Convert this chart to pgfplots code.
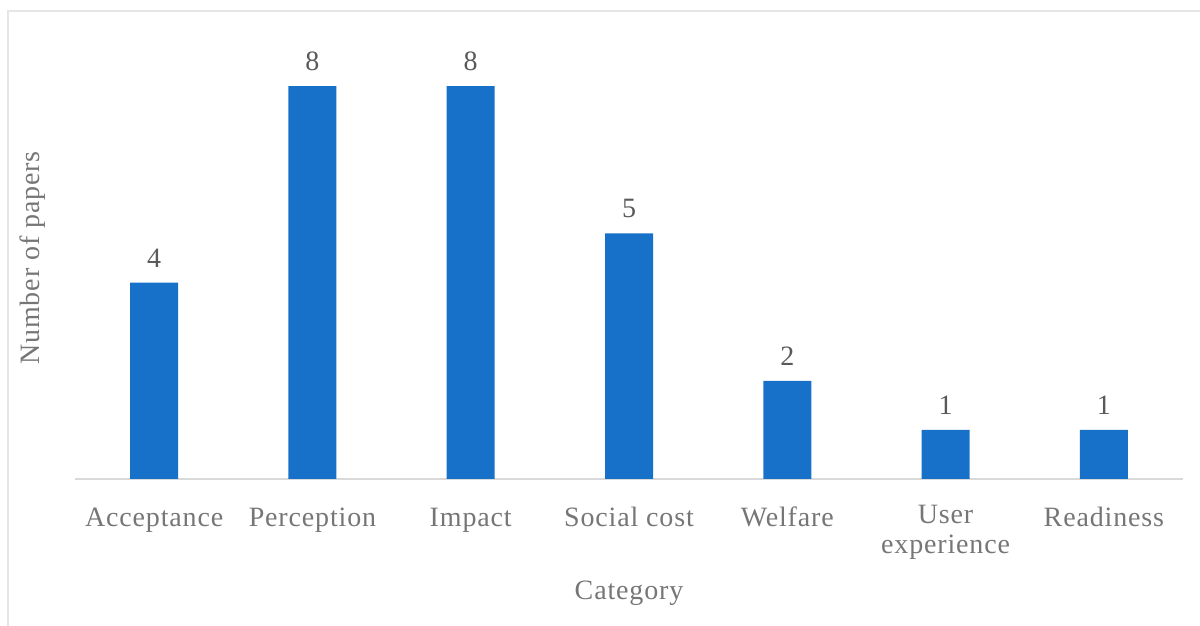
\documentclass[border=0pt]{standalone}
\usepackage{fontspec}
\setmainfont{Liberation Serif}[LetterSpace=3]
\usepackage{pgfplots}
\pgfplotsset{compat=1.18}

\definecolor{barblue}{HTML}{1871C9}
\definecolor{labgray}{HTML}{767676}
\definecolor{valgray}{HTML}{595959}
\definecolor{linegray}{HTML}{D9D9D9}
\definecolor{framegray}{HTML}{E6E6E6}

\begin{document}
\begin{tikzpicture}
\fontsize{14}{15}\selectfont
% chart frame (only top and left edges show in the crop)
\draw[framegray, line width=1pt] (4pt,0pt) -- (4pt,307.5pt) -- (600pt,307.5pt);
\begin{axis}[
    at={(37.5pt,73.5pt)}, anchor=south west,
    scale only axis,
    width=554pt, height=221pt,
    xmin=-0.5, xmax=6.5,
    ymin=0, ymax=9,
    axis x line=bottom, axis y line*=left,
    x axis line style={-, linegray, line width=0.8pt},
    y axis line style={draw=none},
    xtick=data, ytick=\empty,
    major tick length=0pt,
    xticklabels={Acceptance, Perception, Impact, Social cost, Welfare, {User\\experience}, Readiness},
    xticklabel style={font=\fontsize{14}{15}\selectfont, text=labgray, align=center, inner sep=0pt,
        anchor=north, yshift=-13pt, execute at begin node=\strut},
    xlabel={Category},
    xlabel style={font=\fontsize{14}{15}\selectfont, text=labgray, at={(axis description cs:0.5,0)}, anchor=center, yshift=-57pt},
    ylabel={Number of papers},
    ylabel style={font=\fontsize{14}{15}\selectfont, text=labgray, at={(axis description cs:0,0.5)}, anchor=center, yshift=21pt},
    /pgf/number format/assume math mode=true,
    nodes near coords,
    nodes near coords style={font=\fontsize{14}{15}\selectfont, text=valgray, inner sep=0pt, anchor=south, yshift=7.5pt},
    clip=false,
]
\addplot[ybar, bar width=24pt, fill=barblue, draw=none] coordinates {
    (0,4) (1,8) (2,8) (3,5) (4,2) (5,1) (6,1)
};
\end{axis}
\pgfresetboundingbox
\path[use as bounding box] (0,0) rectangle (600pt,313pt);
\end{tikzpicture}
\end{document}
